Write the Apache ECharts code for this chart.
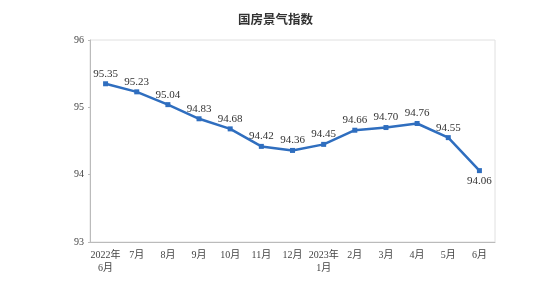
<!DOCTYPE html>
<html><head><meta charset="utf-8">
<script src="https://cdn.jsdelivr.net/npm/echarts@6/dist/echarts.min.js"></script>
<style>html,body{margin:0;padding:0;background:#fff}#c{width:551px;height:289px}</style>
</head><body><div id="c"></div>
<script>
const categories = ['2022年\n6月','7月','8月','9月','10月','11月','12月','2023年\n1月','2月','3月','4月','5月','6月'];
const values = [95.35,95.23,95.04,94.83,94.68,94.42,94.36,94.45,94.66,94.70,94.76,94.55,94.06];
const yTicks = [93,94,95,96];
const title = '国房景气指数';

const chart = echarts.init(document.getElementById('c'));
chart.setOption({
  animation:false,
  backgroundColor:'#fff',
  title:{text:title,left:'center',top:8,textStyle:{fontFamily:'Noto Sans CJK SC',fontSize:12.5,fontWeight:'bold',color:'#333'}},
  grid:{left:90,right:56,top:40,bottom:47,show:true,borderColor:'#e0e0e0',borderWidth:1},
  xAxis:{type:'category',data:categories,boundaryGap:true,
    axisLine:{lineStyle:{color:'#bbb'}},
    axisTick:{inside:true,length:4,lineStyle:{color:'#ccc'}},
    axisLabel:{fontFamily:'Liberation Serif, Noto Sans CJK SC',fontSize:10,color:'#444',margin:7,lineHeight:13,interval:0}},
  yAxis:{type:'value',min:yTicks[0],max:yTicks[yTicks.length-1],interval:1,
    splitLine:{show:false},
    axisLine:{show:true,lineStyle:{color:'#bbb'}},
    axisTick:{show:true,length:2,lineStyle:{color:'#bbb'}},
    axisLabel:{fontFamily:'Liberation Serif',fontSize:10,color:'#444',margin:6}},
  series:[{type:'line',data:values.map((v,i)=>({value:v,label:{position:i===values.length-1?'bottom':'top'}})),
    symbol:'rect',symbolSize:5,
    lineStyle:{color:'#2f6ebf',width:2.5},
    itemStyle:{color:'#2f6ebf'},
    label:{show:true,formatter:p=>p.value.toFixed(2),fontFamily:'Liberation Serif',fontSize:11,color:'#333',distance:2}}]
});
</script></body></html>
